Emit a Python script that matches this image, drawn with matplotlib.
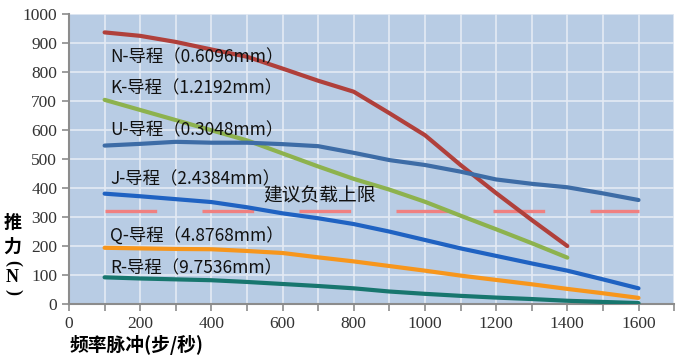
import matplotlib
matplotlib.use('Agg')
import matplotlib.pyplot as plt
from matplotlib.ticker import MultipleLocator

plt.rcParams['font.family'] = ['Noto Sans CJK SC', 'DejaVu Sans']

# frequency (steps/s)
freq = [100, 200, 300, 400, 500, 600, 700, 800, 900, 1000, 1100, 1200, 1300, 1400, 1500, 1600]

# thrust (N) per lead
n_lead = [938, 926, 905, 879, 854, 813, 771, 733, 659, 583, 480, 383, 290, 200]
k_lead = [705, 670, 635, 600, 565, 520, 475, 432, 395, 353, 305, 258, 210, 160]
u_lead = [547, 553, 560, 557, 557, 552, 545, 522, 497, 480, 457, 430, 415, 403, 382, 359]
j_lead = [381, 372, 362, 352, 334, 313, 296, 276, 250, 221, 192, 166, 140, 115, 85, 54]
q_lead = [194, 192, 190, 189, 183, 176, 161, 147, 131, 115, 98, 83, 68, 52, 37, 21]
r_lead = [92, 88, 85, 82, 76, 69, 62, 54, 43, 35, 28, 22, 17, 11, 7, 3]

load_limit = 320

labels = ['N-导程（0.6096mm）', 'K-导程（1.2192mm）', 'U-导程（0.3048mm）',
          'J-导程（2.4384mm）', 'Q-导程（4.8768mm）', 'R-导程（9.7536mm）']
label_pos = [(115, 853), (115, 746), (115, 601), (115, 431), (115, 231), (115, 124)]

series = [n_lead, k_lead, u_lead, j_lead, q_lead, r_lead]
colors = ['#B0403B', '#8DB24E', '#3D6CA6', '#1F62C2', '#F7961C', '#17766E']

fig = plt.figure(figsize=(7, 3.61), dpi=100)
ax = fig.add_axes([0.0986, 0.158, 0.8644, 0.802])
ax.set_facecolor('#B8CCE4')

for vals, c in zip(series, colors):
    ax.plot(freq[:len(vals)], vals, color=c, lw=3, solid_capstyle='round', zorder=3)

ax.plot([freq[0], freq[-1]], [load_limit, load_limit], color='#F08080', lw=2.4,
        dashes=(15.5, 13.6), dash_capstyle='butt', zorder=2)

for txt, (x, y) in zip(labels, label_pos):
    ax.text(x, y, txt, fontsize=12.5, color='#111111', va='center', ha='left', zorder=4)
ax.text(545, 373, '建议负载上限', fontsize=13.5, color='#111111', va='center', ha='left', zorder=4)

ax.set_xlim(0, 1700)
ax.set_ylim(0, 1000)
ax.xaxis.set_major_locator(MultipleLocator(200))
ax.xaxis.set_minor_locator(MultipleLocator(100))
ax.yaxis.set_major_locator(MultipleLocator(100))
ax.grid(True, which='both', color='#E4EBF4', lw=1.2, zorder=1)
ax.set_axisbelow(True)

for s in ['top', 'right']:
    ax.spines[s].set_visible(False)
for s in ['left', 'bottom']:
    ax.spines[s].set_color('#8C8C8C')
    ax.spines[s].set_linewidth(1.5)
ax.tick_params(which='both', direction='out', length=5, color='#8C8C8C', width=1.2)
ax.tick_params(axis='both', labelsize=12.5, labelcolor='#333333')
for lab in ax.get_xticklabels() + ax.get_yticklabels():
    lab.set_family('Liberation Serif')

fig.text(0.1, 0.045, '频率脉冲(步/秒)', fontsize=13.5, fontweight='bold', ha='left', va='center')

# vertical y-axis title, one glyph per row (brackets turned sideways)
ylab_chars = ['推', '力', '(', 'N', ')']
ylab_rows = [222, 246, 263, 278, 292]
for ch, row in zip(ylab_chars, ylab_rows):
    fam = ['Liberation Serif'] if ch in 'N()' else ['Noto Sans CJK SC']
    rot = -90 if ch in '()' else 0
    fig.text(0.018, 1 - row / 361, ch, fontsize=13, fontweight='bold', family=fam,
             rotation=rot, ha='center', va='center')

fig.savefig('out.png', dpi=100)
